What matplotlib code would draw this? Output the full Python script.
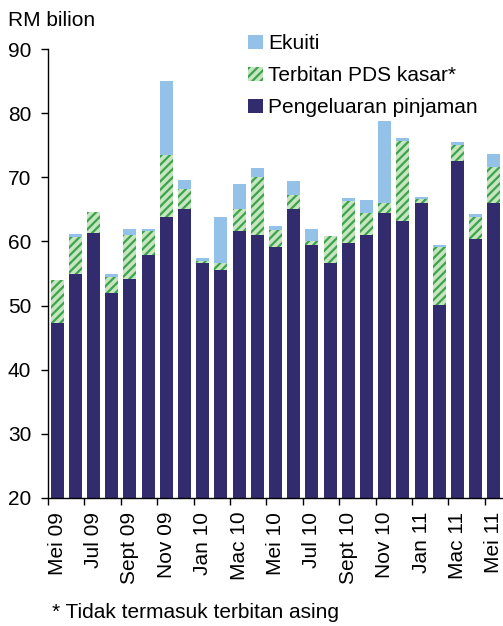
import matplotlib
matplotlib.use("Agg")
import matplotlib.pyplot as plt
import numpy as np
from matplotlib.patches import Patch

plt.rcParams['font.family'] = ['Liberation Sans', 'DejaVu Sans']
plt.rcParams['hatch.linewidth'] = 1.6

months = ["Mei 09", "Jun 09", "Jul 09", "Ogos 09", "Sept 09", "Okt 09", "Nov 09", "Dis 09",
          "Jan 10", "Feb 10", "Mac 10", "Apr 10", "Mei 10", "Jun 10", "Jul 10", "Ogos 10",
          "Sept 10", "Okt 10", "Nov 10", "Dis 10", "Jan 11", "Feb 11", "Mac 11", "Apr 11", "Mei 11"]

# Stacked series (RM billion)
pinjaman = [47.3, 54.9, 61.3, 52.0, 54.1, 57.9, 63.8, 65.0, 56.6, 55.5, 61.6, 61.0, 59.1,
            65.0, 59.4, 56.6, 59.7, 61.0, 64.4, 63.2, 66.0, 50.1, 72.5, 60.4, 66.0]
pds = [6.7, 5.8, 3.3, 2.4, 6.9, 3.7, 9.7, 3.2, 0.3, 1.1, 3.4, 9.0, 2.7,
       2.2, 0.6, 4.2, 6.6, 3.4, 1.6, 12.4, 0.6, 9.0, 2.5, 3.4, 5.6]
ekuiti = [0.0, 0.5, 0.0, 0.45, 0.9, 0.3, 11.5, 1.4, 0.5, 7.2, 3.9, 1.45, 0.6,
          2.2, 2.0, 0.0, 0.5, 2.05, 12.8, 0.45, 0.3, 0.3, 0.5, 0.5, 2.0]

tick_labels = ["Mei 09", "Jul 09", "Sept 09", "Nov 09", "Jan 10", "Mac 10", "Mei 10",
               "Jul 10", "Sept 10", "Nov 10", "Jan 11", "Mac 11", "Mei 11"]

navy = "#322B6E"
lblue = "#93C1E8"
lgreen = "#C6E6C0"
dgreen = "#3EA24F"
FS = 15

fig = plt.figure(figsize=(5.03, 6.26), dpi=100)
ax = fig.add_axes([0.0954, 0.2045, 0.9046, 0.7172])

x = np.arange(len(months))
w = 0.71
pinj = np.array(pinjaman)
pd_ = np.array(pds)
ek = np.array(ekuiti)

ax.bar(x, pinj - 20, bottom=20, width=w, color=navy, linewidth=0)
ax.bar(x, pd_, bottom=pinj, width=w, facecolor=lgreen, edgecolor=dgreen,
       hatch='////', linewidth=0)
ax.bar(x, ek, bottom=pinj + pd_, width=w, color=lblue, linewidth=0)

ax.set_ylim(20, 90)
ax.set_xlim(-0.5, 24.5)
ax.set_yticks(range(20, 91, 10))
ax.tick_params(axis='y', labelsize=FS, length=5, width=1, direction='out', pad=7)

label_pos = [months.index(t) for t in tick_labels]
ax.set_xticks(label_pos)
ax.set_xticklabels(tick_labels, rotation=90, fontsize=FS)
ax.tick_params(axis='x', length=0, pad=10)
ax.set_xticks(np.arange(-0.5, 24, 2), minor=True)
ax.tick_params(axis='x', which='minor', length=5, width=1, direction='out')

for s in ['top', 'right']:
    ax.spines[s].set_visible(False)
ax.spines['left'].set_linewidth(1)
ax.spines['bottom'].set_linewidth(1)

fig.text(0.016, 0.968, "RM bilion", fontsize=FS, va='center', ha='left')
fig.text(0.103, 0.022, "* Tidak termasuk terbitan asing", fontsize=FS, va='center', ha='left')

handles = [Patch(facecolor=lblue, linewidth=0),
           Patch(facecolor=lgreen, edgecolor=dgreen, hatch='////', linewidth=0),
           Patch(facecolor=navy, linewidth=0)]
labels = ["Ekuiti", "Terbitan PDS kasar*", "Pengeluaran pinjaman"]
fig.legend(handles, labels, loc='upper left', bbox_to_anchor=(0.493, 0.945),
           frameon=False, fontsize=FS, handlelength=0.7, handleheight=0.7,
           handletextpad=0.25, labelspacing=0.62, borderaxespad=0, borderpad=0)

fig.savefig("out.png", dpi=100)
